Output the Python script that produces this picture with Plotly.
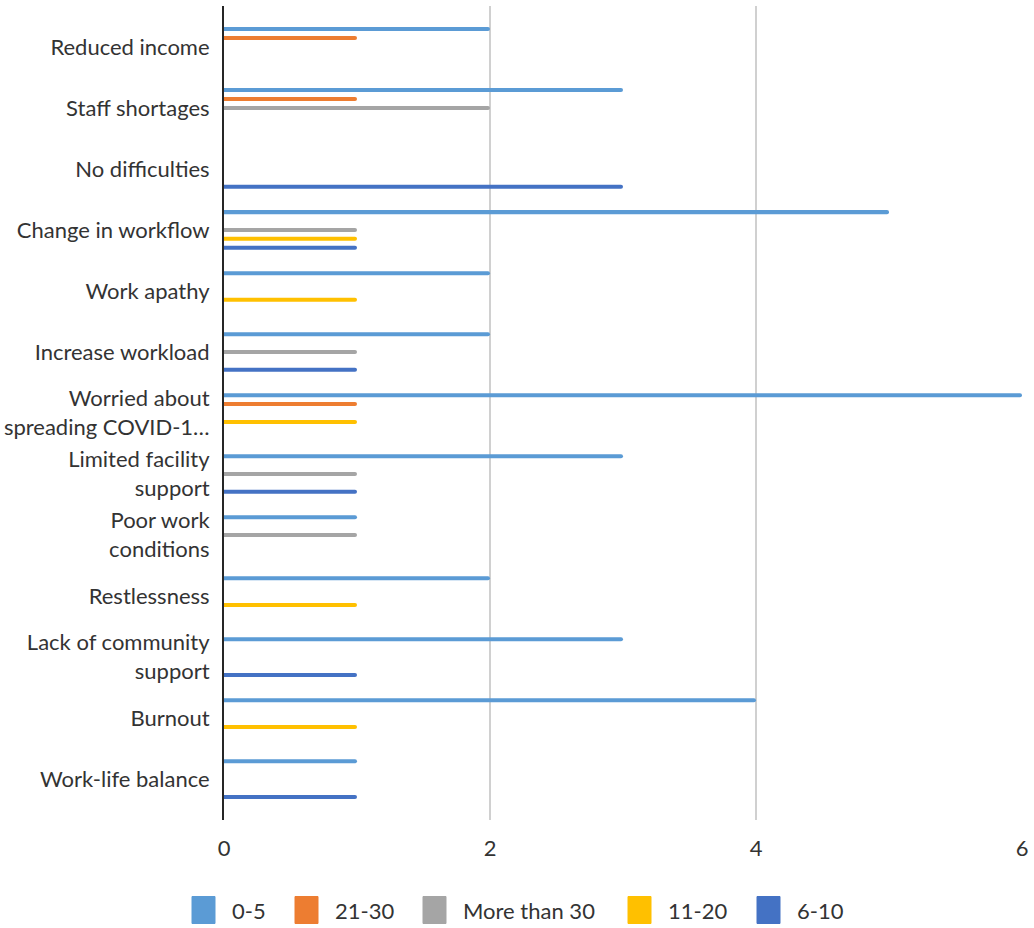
import plotly.graph_objects as go

categories = [
    "Reduced income",
    "Staff shortages",
    "No difficulties",
    "Change in workflow",
    "Work apathy",
    "Increase workload",
    "Worried about<br>spreading COVID-1…",
    "Limited facility<br>support",
    "Poor work<br>conditions",
    "Restlessness",
    "Lack of community<br>support",
    "Burnout",
    "Work-life balance",
]

series_names = ["0-5", "21-30", "More than 30", "11-20", "6-10"]
series_colors = ["#5B9BD5", "#ED7D31", "#A5A5A5", "#FFC000", "#4472C4"]

v_0_5 = [2, 3, 0, 5, 2, 2, 6, 3, 1, 2, 3, 4, 1]
v_21_30 = [1, 1, 0, 0, 0, 0, 1, 0, 0, 0, 0, 0, 0]
v_more_30 = [0, 2, 0, 1, 0, 1, 0, 1, 1, 0, 0, 0, 0]
v_11_20 = [0, 0, 0, 1, 1, 0, 1, 0, 0, 1, 0, 1, 0]
v_6_10 = [0, 0, 3, 1, 0, 1, 0, 1, 0, 0, 1, 0, 1]

series_values = [v_0_5, v_21_30, v_more_30, v_11_20, v_6_10]

x_ticks = [0, 2, 4, 6]

# page geometry (pixels)
W, H = 1034, 928
M_L, M_R, M_T, M_B = 224, 12, 6, 108
PLOT_W = W - M_L - M_R
PLOT_H = H - M_T - M_B

font_family = "Lato, 'Open Sans', sans-serif"
text_color = "#333333"

fig = go.Figure()
for name, color, vals in zip(series_names, series_colors, series_values):
    fig.add_trace(go.Bar(
        y=categories,
        x=vals,
        name=name,
        orientation="h",
        marker=dict(color=color, line=dict(width=0), cornerradius=2),
        showlegend=False,
    ))


def paper_x(px):
    return (px - M_L) / PLOT_W


def paper_y(py):
    return (H - M_B - py) / PLOT_H


# custom legend row below the plot: colour swatch followed by its label
legend_left = [192, 295, 423, 628, 757]
legend_mid_y = 910
swatch_w, swatch_h = 23, 27
shapes = []
annotations = []
for name, color, left in zip(series_names, series_colors, legend_left):
    shapes.append(dict(
        type="rect", xref="paper", yref="paper",
        x0=paper_x(left), x1=paper_x(left + swatch_w),
        y0=paper_y(legend_mid_y + swatch_h / 2), y1=paper_y(legend_mid_y - swatch_h / 2),
        fillcolor=color, line=dict(color=color, width=1),
    ))
    annotations.append(dict(
        xref="paper", yref="paper",
        x=paper_x(left + 38), y=paper_y(legend_mid_y),
        xanchor="left", yanchor="middle",
        text=name, showarrow=False,
        font=dict(family=font_family, size=22, color=text_color),
    ))

fig.update_layout(
    width=W,
    height=H,
    paper_bgcolor="white",
    plot_bgcolor="white",
    barmode="group",
    bargap=0.27,
    bargroupgap=0.55,
    margin=dict(l=M_L, r=M_R, t=M_T, b=M_B, autoexpand=False),
    font=dict(family=font_family, size=22, color=text_color),
    showlegend=False,
    shapes=shapes,
    annotations=annotations,
    xaxis=dict(
        range=[0, 6],
        tickvals=x_ticks,
        showgrid=True,
        gridcolor="#D0D0D0",
        gridwidth=1.5,
        zeroline=False,
        showline=False,
        ticks="",
        ticklabelstandoff=13,
        tickfont=dict(size=22, color=text_color),
        fixedrange=True,
        automargin=False,
    ),
    yaxis=dict(
        type="category",
        categoryorder="array",
        categoryarray=categories,
        range=[12.67, -0.67],
        showgrid=False,
        zeroline=False,
        showline=True,
        linecolor="#262626",
        linewidth=2,
        ticks="",
        ticklabelstandoff=8,
        tickfont=dict(size=22, color=text_color),
        fixedrange=True,
        automargin=False,
    ),
)

fig.write_html("out.html")
